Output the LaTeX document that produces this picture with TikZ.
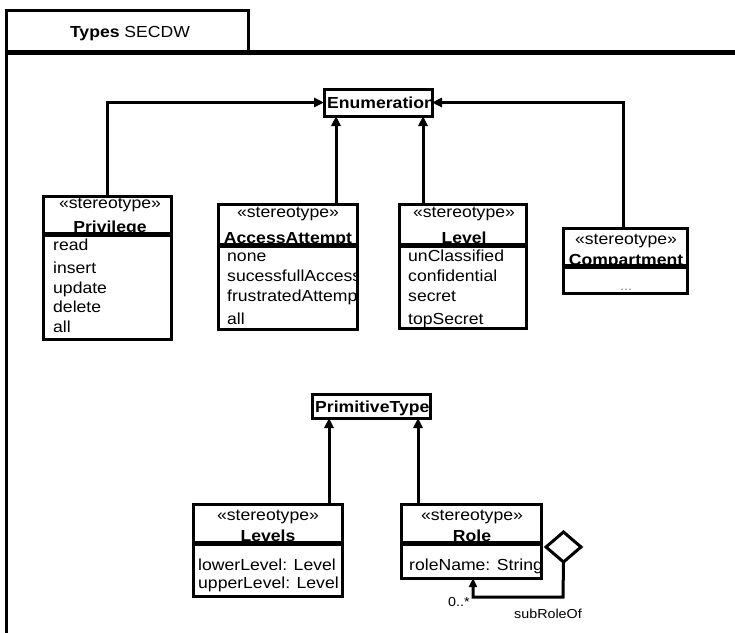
\documentclass[tikz,border=0pt]{standalone}
\usepackage{fontspec}
\setmainfont{Liberation Sans}[FakeStretch=1.1]
\usetikzlibrary{arrows.meta,shapes.geometric}
\begin{document}
\begin{tikzpicture}[x=1pt,y=-1pt,
  umlbox/.style={draw, line width=3pt, fill=white, rectangle, inner sep=0pt, outer sep=0pt, anchor=north west},
  sepline/.style={line width=5pt},
  border/.style={line width=3pt},
  txt/.style={inner sep=0pt, anchor=base west, font=\fontsize{16}{19}\selectfont},
  ctxt/.style={inner sep=0pt, anchor=base, font=\fontsize{16}{19}\selectfont},
  btxt/.style={inner sep=0pt, anchor=base, font=\fontsize{16}{19}\selectfont\bfseries},
  small/.style={inner sep=0pt, anchor=base west, font=\fontsize{13}{15}\selectfont},
  conn/.style={line width=3pt, -{Triangle[length=10pt,width=9pt]}},
]
\useasboundingbox (0,0) rectangle (735,632);
\fill[white] (0,0) rectangle (735,632);

% package frame
\node[umlbox, minimum width=242pt, minimum height=43pt] (tab) at (6,10) {};
\node[ctxt] (title) at (130,37) {\textbf{Types} SECDW};
\draw[border] (6,52) -- (6,634);
\draw[line width=5pt] (4.5,52) -- (737,52);

% Enumeration
\node[umlbox, minimum width=108pt, minimum height=27pt] (enum) at (324,89) {};
\begin{scope}
  \clip (enum.north west) rectangle (enum.south east);
  \node[txt, font=\fontsize{16}{19}\selectfont\bfseries] (enumt) at (327,108) {Enumeration};
\end{scope}
\draw[border] (enum.north west) rectangle (enum.south east);

% Privilege
\node[umlbox, minimum width=128pt, minimum height=143pt] (priv) at (43,196) {};
\begin{scope}
  \clip (priv.north west) rectangle (priv.south east);
  \node[ctxt] (privs) at (110,208) {«stereotype»};
  \node[btxt] (privn) at (110,232) {Privilege};
  \node[txt] (priv1) at (53,250) {read};
  \node[txt] (priv2) at (53,273) {insert};
  \node[txt] (priv3) at (53,293) {update};
  \node[txt] (priv4) at (53,312) {delete};
  \node[txt] (priv5) at (53,332) {all};
\end{scope}
\draw[border] (priv.north west) rectangle (priv.south east);
\draw[sepline] (priv.west |- 0,234) -- (priv.east |- 0,234);

% AccessAttempt
\node[umlbox, minimum width=139pt, minimum height=125pt] (acc) at (218,204) {};
\begin{scope}
  \clip (acc.north west) rectangle (acc.south east);
  \node[ctxt] (accs) at (288,217) {«stereotype»};
  \node[btxt] (accn) at (288,243) {AccessAttempt};
  \node[txt] (acc1) at (227,261) {none};
  \node[txt] (acc2) at (227,281) {sucessfullAccess};
  \node[txt] (acc3) at (227,301) {frustratedAttempt};
  \node[txt] (acc4) at (227,324) {all};
\end{scope}
\draw[border] (acc.north west) rectangle (acc.south east);
\draw[sepline] (acc.west |- 0,245) -- (acc.east |- 0,245);

% Level
\node[umlbox, minimum width=127pt, minimum height=124pt] (lvl) at (399,204) {};
\begin{scope}
  \clip (lvl.north west) rectangle (lvl.south east);
  \node[ctxt] (lvls) at (464,217) {«stereotype»};
  \node[btxt] (lvln) at (464,243) {Level};
  \node[txt] (lvl1) at (408,261) {unClassified};
  \node[txt] (lvl2) at (408,281) {confidential};
  \node[txt] (lvl3) at (408,301) {secret};
  \node[txt] (lvl4) at (408,324) {topSecret};
\end{scope}
\draw[border] (lvl.north west) rectangle (lvl.south east);
\draw[sepline] (lvl.west |- 0,245) -- (lvl.east |- 0,245);

% Compartment
\node[umlbox, minimum width=124pt, minimum height=65pt] (comp) at (563,228) {};
\begin{scope}
  \clip (comp.north west) rectangle (comp.south east);
  \node[ctxt] (comps) at (626,244) {«stereotype»};
  \node[btxt] (compn) at (626,265) {Compartment};
  \node[inner sep=0pt, anchor=base, font=\fontsize{13}{15}\selectfont, text=gray] (compd) at (626,290) {...};
\end{scope}
\draw[border] (comp.north west) rectangle (comp.south east);
\draw[sepline] (comp.west |- 0,266) -- (comp.east |- 0,266);

% connectors to Enumeration
\coordinate (accTop) at (336,204);
\coordinate (lvlTop) at (423,204);
\coordinate (compTop) at (623,228);
\draw[conn] (priv.north) |- (enum.west);
\draw[conn] (accTop) -- (accTop |- enum.south);
\draw[conn] (lvlTop) -- (lvlTop |- enum.south);
\draw[conn] (compTop) |- (enum.east);

% PrimitiveType
\node[umlbox, minimum width=118pt, minimum height=24pt] (prim) at (312,394) {};
\begin{scope}
  \clip (prim.north west) rectangle (prim.south east);
  \node[txt, font=\fontsize{16}{19}\selectfont\bfseries] (primt) at (315,412) {PrimitiveType};
\end{scope}
\draw[border] (prim.north west) rectangle (prim.south east);

% Levels
\node[umlbox, minimum width=149pt, minimum height=92pt] (levs) at (193,504) {};
\begin{scope}
  \clip (levs.north west) rectangle (levs.south east);
  \node[ctxt] (levss) at (268,520) {«stereotype»};
  \node[btxt] (levsn) at (268,541) {Levels};
  \node[txt] (levs1) at (198,570) {lowerLevel: Level};
  \node[txt] (levs2) at (198,588) {upperLevel: Level};
\end{scope}
\draw[border] (levs.north west) rectangle (levs.south east);
\draw[sepline] (levs.west |- 0,543) -- (levs.east |- 0,543);

% Role
\node[umlbox, minimum width=140pt, minimum height=74pt] (role) at (401,504) {};
\begin{scope}
  \clip (role.north west) rectangle (role.south east);
  \node[ctxt] (roles) at (472,520) {«stereotype»};
  \node[btxt] (rolen) at (472,541) {Role};
  \node[txt] (role1) at (409,570) {roleName: String};
\end{scope}
\draw[border] (role.north west) rectangle (role.south east);
\draw[sepline] (role.west |- 0,543) -- (role.east |- 0,543);

% connectors to PrimitiveType
\coordinate (levsTop) at (329,504);
\coordinate (roleTop) at (418,504);
\draw[conn] (levsTop) -- (levsTop |- prim.south);
\draw[conn] (roleTop) -- (roleTop |- prim.south);

% aggregation subRoleOf
\node[diamond, draw, line width=3pt, fill=white, inner sep=0pt, outer sep=0pt,
      minimum width=35pt, minimum height=30pt] (dia) at (563.5,547) {};
\coordinate (aggEnd) at (473,578);
\coordinate (aggCorner) at (563,597);
\draw[line width=3pt, -{Triangle[length=9pt,width=8pt]}] (dia.south) -- (aggCorner) -| (aggEnd);
\node[small] (mult) at (448,606) {0..*};
\node[small] (rolename) at (514,618) {subRoleOf};
\end{tikzpicture}
\end{document}
